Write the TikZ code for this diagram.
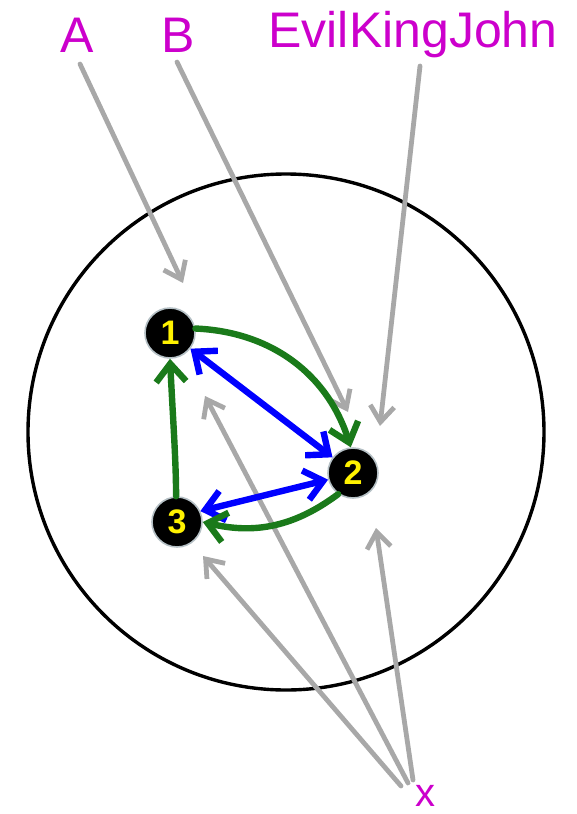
\documentclass[tikz,border=0pt]{standalone}
\usepackage{fontspec}
\setmainfont{Liberation Sans}
\usetikzlibrary{arrows.meta}
\definecolor{labmag}{HTML}{CC00CC}
\definecolor{arcgreen}{HTML}{1A7A1A}
\definecolor{ptgray}{HTML}{A8A8A8}
\begin{document}
\begin{tikzpicture}[x=0.5pt, y=-0.5pt, line cap=round,
    state/.style={circle, fill=black, draw=cyan!15!gray!60, line width=0.8pt,
      minimum size=25pt, inner sep=0pt, text=yellow, font=\bfseries\fontsize{17}{17}\selectfont},
    lab/.style={text=labmag, font=\fontsize{25}{30}\selectfont},
    pointer/.style={ptgray, line width=2.4pt, -{Straight Barb[length=8pt,width=12pt]}},
    edge/.style={line width=3.2pt, {Straight Barb[length=9pt,width=15pt]}-{Straight Barb[length=9pt,width=15pt]}},
    move/.style={arcgreen, line width=3.2pt, -{Straight Barb[length=9pt,width=15pt]}}]
    \useasboundingbox (0,0) rectangle (577,814);

    \draw[black, line width=1.7pt] (286,432) circle[radius=129pt];

    \node[state] (s1) at (170,333) {1};
    \node[state] (s2) at (353,473) {2};
    \node[state] (s3) at (177,522) {3};

    \node[lab] (la) at (77,35) {A};
    \node[lab] (lb) at (178,35) {B};
    \node[lab] (lk) at (413,35) {EvilKingJohn};
    \node[text=labmag, font=\fontsize{20}{24}\selectfont, anchor=base, inner sep=1pt] (lx) at (425,806) {x};

    \coordinate (ta) at (183,283);
    \coordinate (tb) at (348,412);
    \coordinate (tk) at (380,426);
    \coordinate (t1) at (205,396);
    \coordinate (t3) at (203,556);
    \coordinate (t2) at (376,528);

    \draw[pointer] (80,64) -- (ta);
    \draw[pointer] (177,62) -- (tb);
    \draw[pointer] (420,66) -- (tk);
    \draw[pointer] (408,783) -- (t1);
    \draw[pointer] (401,786) -- (t3);
    \draw[pointer] (413,780) -- (t2);

    \draw[edge, blue] (s1) -- (s2);
    \draw[edge, blue] (s3.25) -- (s2.195);

    \draw[move] (s1.10) to[bend left=35] (s2.95);
    \draw[move] (s2.235) to[bend left=25] (s3.0);
    \draw[move] (s3.92) .. controls (176,460) and (173,420) .. (s1.270);
\end{tikzpicture}
\end{document}
